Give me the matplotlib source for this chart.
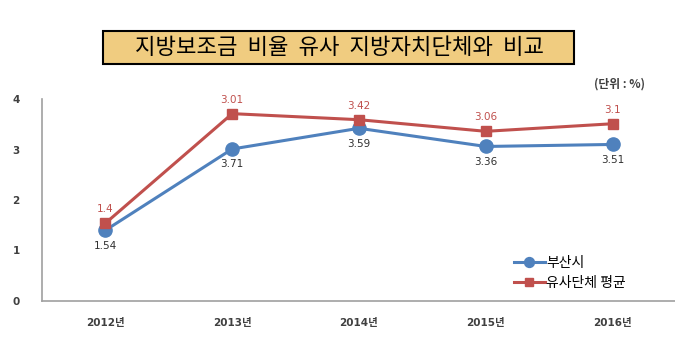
import matplotlib.pyplot as plt
from matplotlib.patches import Rectangle

plt.rcParams['font.family'] = ['Noto Sans CJK KR', 'DejaVu Sans']

years = ['2012년', '2013년', '2014년', '2015년', '2016년']
busan = [1.4, 3.01, 3.42, 3.06, 3.1]
similar_avg = [1.54, 3.71, 3.59, 3.36, 3.51]
# labels as printed in the source chart (they are swapped between series there)
busan_labels = ['1.54', '3.71', '3.59', '3.36', '3.51']
similar_labels = ['1.4', '3.01', '3.42', '3.06', '3.1']
yticks = [0, 1, 2, 3, 4]

blue = '#4F81BD'
red = '#C0504D'
num_font = ['DejaVu Sans', 'Noto Sans CJK KR']

fig = plt.figure(figsize=(6.75, 3.43), dpi=100)
ax = fig.add_axes([42 / 675, 42 / 343, 634 / 675, 202 / 343])

x = list(range(len(years)))
ax.plot(x, busan, color=blue, lw=2.2, marker='o', ms=9.5, label='부산시')
ax.plot(x, similar_avg, color=red, lw=2.2, marker='s', ms=7, label='유사단체 평균')

for i in x:
    ax.annotate(busan_labels[i], (i, busan[i]), xytext=(0, -11), textcoords='offset points',
                ha='center', va='center', fontsize=7.5, color='#303030', family=num_font)
    ax.annotate(similar_labels[i], (i, similar_avg[i]), xytext=(0, 10), textcoords='offset points',
                ha='center', va='center', fontsize=7.5, color=red, family=num_font)

ax.set_xlim(-0.5, 4.5)
ax.set_ylim(0, 4)
ax.set_xticks(x)
ax.set_xticklabels(years, fontsize=7.5, fontweight='bold', color='#404040', family=num_font)
ax.set_yticks(yticks)
ax.set_yticklabels([str(t) for t in yticks], fontsize=7.5, fontweight='bold', color='#404040',
                   family=num_font)
ax.tick_params(length=0)
ax.tick_params(axis='x', pad=12)
ax.tick_params(axis='y', pad=16)
for s in ['top', 'right']:
    ax.spines[s].set_visible(False)
for s in ['left', 'bottom']:
    ax.spines[s].set_color('#A0A0A0')
    ax.spines[s].set_linewidth(1.2)

ax.legend(loc='upper left', bbox_to_anchor=(514 / 675, 1 - 256 / 343), bbox_transform=fig.transFigure,
          frameon=False, fontsize=10, handlelength=2.2, handletextpad=0.1, labelspacing=0.45,
          borderaxespad=0, borderpad=0, markerscale=0.75)

# title box
fig.patches.append(Rectangle((103 / 675, 1 - 64 / 343), 471 / 675, 33 / 343,
                             transform=fig.transFigure, facecolor='#F0CC80',
                             edgecolor='black', lw=1.5))
fig.text(340 / 675, 1 - 47.5 / 343, '지방보조금  비율  유사  지방자치단체와  비교', ha='center', va='center',
         fontsize=16, color='black')
fig.text(645 / 675, 1 - 84 / 343, '(단위 : %)', ha='right', va='center', fontsize=8.5,
         fontweight='bold', color='#404040')

fig.savefig('out.png', dpi=100)
